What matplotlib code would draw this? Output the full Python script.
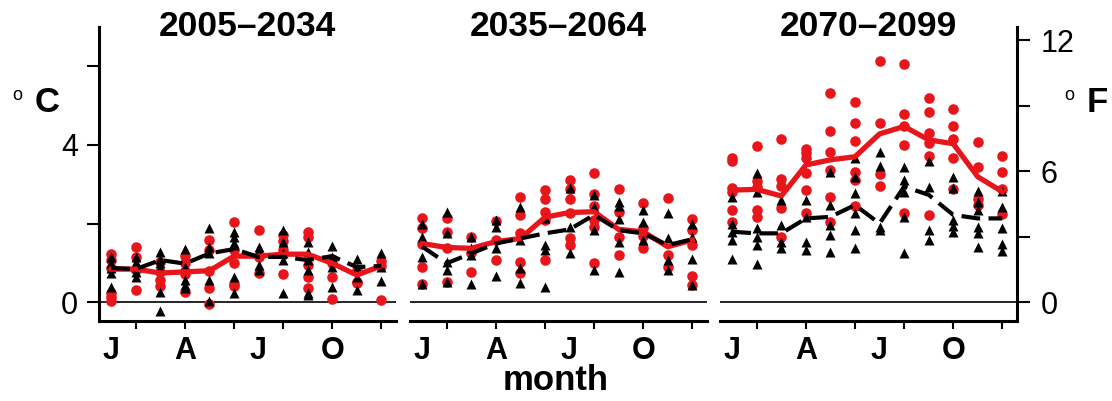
import matplotlib
matplotlib.use("Agg")
import matplotlib.pyplot as plt

plt.rcParams['font.family'] = ['Liberation Sans', 'DejaVu Sans']

months = list(range(1, 13))
month_labels = ['J', 'A', 'J', 'O']
month_label_pos = [1, 4, 7, 10]
periods = ['2005\u20132034', '2035\u20132064', '2070\u20132099']

# warming (deg C) per month, one list of model values for each month
p1_red = [[1.22, 1.07, 0.88, 0.22, 0.12, 0.03], [1.41, 1.15, 0.83, 0.32], [1.03, 0.77, 0.56, 0.41],
          [1.17, 0.99, 0.80, 0.71, 0.26], [1.58, 1.32, 0.80, 0.35, -0.05], [2.05, 1.32, 1.00, 0.46, 0.41],
          [1.83, 1.15, 0.75], [1.71, 1.56, 1.32, 0.71], [1.79, 1.66, 0.94, 0.63, 0.37],
          [1.11, 0.99, 0.65, 0.07], [0.82, 0.52, 0.48], [1.05, 0.92, 0.05]]
p1_blk = [[1.14, 1.00, 0.88, 0.73, 0.39], [1.15, 1.03, 0.90, 0.77, 0.65], [1.28, 1.11, 0.99, 0.88, 0.26, -0.23],
          [1.34, 0.90, 0.56, 0.43, 0.35], [1.89, 1.41, 1.24, 0.56, 0.03], [1.79, 1.65, 1.51, 1.45, 0.65, 0.24],
          [1.41, 1.32, 0.94, 0.83], [1.83, 1.54, 1.24, 1.07, 0.24], [1.54, 1.28, 1.07, 0.82, 0.22, 0.18],
          [1.43, 1.15, 0.90, 0.39], [1.11, 0.88, 0.65, 0.31], [1.26, 0.90, 0.54]]
p1_red_mean = [0.84, 0.84, 0.74, 0.77, 0.80, 1.17, 1.17, 1.22, 1.22, 0.99, 0.69, 0.92]
p1_blk_mean = [0.87, 0.84, 1.07, 0.98, 1.24, 1.35, 1.15, 1.15, 1.07, 1.17, 0.89, 0.92]

p2_red = [[2.13, 1.88, 1.49, 0.90, 0.46], [2.13, 1.79, 1.37, 0.52], [1.65, 1.24, 0.77],
          [2.07, 1.58, 1.07], [2.68, 2.22, 1.75, 1.03, 0.75], [2.85, 2.62, 2.30, 2.09, 1.07],
          [3.11, 2.87, 2.62, 2.26, 1.62, 1.45], [3.29, 2.75, 2.45, 2.09, 1.92, 1.00], [2.87, 2.30, 1.66, 1.20],
          [2.53, 1.88, 1.68, 1.39], [2.64, 1.20, 0.90], [2.11, 1.83, 1.45, 0.66, 0.43]]
p2_blk = [[2.00, 1.66, 1.14, 0.46], [2.30, 1.75, 1.03, 0.82, 0.52], [1.66, 1.37, 1.20, 0.46],
          [2.09, 1.92, 1.37, 0.66], [2.41, 1.58, 0.88, 0.48], [2.13, 1.45, 1.32, 0.39],
          [2.90, 1.92, 1.26], [2.73, 2.43, 1.83, 0.82], [2.56, 2.45, 2.11, 1.54, 0.77],
          [2.34, 2.05, 1.58], [2.26, 1.62, 1.07, 0.82], [2.00, 1.66, 1.11, 0.43]]
p2_red_mean = [1.49, 1.39, 1.37, 1.54, 1.62, 2.16, 2.28, 2.30, 1.85, 1.79, 1.41, 1.58]
p2_blk_mean = [1.41, 0.99, 1.24, 1.49, 1.62, 1.75, 1.85, 2.22, 1.83, 1.75, 1.45, 1.60]

p3_red = [[3.66, 3.58, 2.90, 2.81, 2.34, 2.05], [3.96, 3.07, 2.94, 2.34, 2.17], [4.15, 3.13, 2.96, 2.39, 1.66],
          [3.89, 3.79, 3.66, 3.28, 2.85, 2.26], [5.31, 4.36, 3.83, 3.36, 2.68, 2.05],
          [5.09, 4.55, 4.11, 3.32, 3.11, 2.45], [6.14, 4.57, 3.26, 2.96], [6.06, 4.79, 4.47, 4.00, 2.26],
          [5.19, 4.85, 4.30, 4.04, 3.72, 2.22], [4.92, 4.47, 4.14, 3.66, 2.88], [4.08, 3.43, 2.62, 2.47],
          [3.72, 3.32, 2.87, 2.24]]
p3_blk = [[2.68, 2.00, 1.79, 1.58, 1.11], [3.28, 2.81, 1.88, 1.66, 1.45, 0.97], [2.60, 1.96, 1.54, 1.37],
          [2.60, 2.17, 1.54, 1.33], [3.32, 2.47, 1.96, 1.71, 1.28], [3.66, 3.19, 2.77, 2.26, 1.83, 1.37],
          [3.83, 3.46, 1.92, 1.83], [3.45, 3.11, 2.81, 2.17, 1.24], [3.58, 2.94, 1.83, 1.58],
          [3.19, 2.90, 2.09, 1.94, 1.79], [2.84, 2.56, 2.34, 1.92, 1.77, 1.41], [2.84, 2.43, 1.88, 1.49, 1.31]]
p3_red_mean = [2.85, 2.87, 2.70, 3.49, 3.62, 3.70, 4.28, 4.47, 4.13, 4.03, 3.19, 2.81]
p3_blk_mean = [1.79, 1.75, 1.75, 2.13, 2.17, 2.47, 2.00, 2.94, 2.73, 2.22, 2.13, 2.13]

red_pts = [p1_red, p2_red, p3_red]
blk_pts = [p1_blk, p2_blk, p3_blk]
red_mean = [p1_red_mean, p2_red_mean, p3_red_mean]
blk_mean = [p1_blk_mean, p2_blk_mean, p3_blk_mean]

RED = '#e8151b'
W, H = 1112, 401
fig = plt.figure(figsize=(W / 100, H / 100), dpi=100)

lefts = [99, 410, 720]
pw = 297
bottom, top = 321, 27
axes = []
for i, x0 in enumerate(lefts):
    ax = fig.add_axes([x0 / W, 1 - bottom / H, pw / W, (bottom - top) / H])
    axes.append(ax)

    for m, vals in zip(months, red_pts[i]):
        ax.plot([m] * len(vals), vals, 'o', color=RED, ms=7.6, mec='none', zorder=2)
    for m, vals in zip(months, blk_pts[i]):
        ax.plot([m] * len(vals), vals, '^', color='black', ms=6.5, mec='none', zorder=3)
    ax.plot(months, red_mean[i], '-', color=RED, lw=3.8, zorder=4)
    ax.plot(months, blk_mean[i], color='black', lw=3.0, dashes=(4.5, 2), zorder=5)
    ax.axhline(0, color='black', lw=1.2, zorder=1)

    ax.set_xlim(0.5, 12.6)
    ax.set_ylim(-0.48, 7.0)
    for s in ['top', 'right', 'left']:
        ax.spines[s].set_visible(False)
    ax.spines['bottom'].set_linewidth(2.2)

    # unlabelled ticks every other month, letters at Jan/Apr/Jul/Oct
    ax.xaxis.remove_overlapping_locs = False
    ax.set_xticks([2, 4, 6, 8, 10, 12])
    ax.set_xticklabels([])
    ax.tick_params(axis='x', which='major', length=6, width=1.5, direction='out')
    ax.set_xticks(month_label_pos, minor=True)
    ax.set_xticklabels(month_labels, minor=True, fontsize=22, fontweight='bold')
    ax.tick_params(axis='x', which='minor', length=0, pad=11)

    ax.text(0.5, 1.0, periods[i], transform=ax.transAxes, fontsize=25.5, fontweight='bold',
            ha='center', va='center')

    if i == 0:
        ax.spines['left'].set_visible(True)
        ax.spines['left'].set_linewidth(2.2)
        ax.set_yticks([0, 2, 4, 6])
        ax.set_yticklabels(['0', '', '4', ''], fontsize=22)
        ax.tick_params(axis='y', length=9, width=1.5, pad=6)
    else:
        ax.set_yticks([])

# Fahrenheit scale on the right of the last panel
sec = axes[2].secondary_yaxis('right', functions=(lambda c: c * 1.8, lambda f: f / 1.8))
sec.set_yticks([0, 3, 6, 9, 12])
sec.set_yticklabels(['0', '', '6', '', '12'], fontsize=22)
sec.tick_params(axis='y', length=9, width=1.5, pad=8)
sec.spines['right'].set_linewidth(2.2)

fig.text(17 / W, 1 - 96 / H, 'o', fontsize=13, ha='center', va='center')
fig.text(47 / W, 1 - 103 / H, 'C', fontsize=25, fontweight='bold', ha='center', va='center')
fig.text(1069 / W, 1 - 96 / H, 'o', fontsize=13, ha='center', va='center')
fig.text(1097 / W, 1 - 103 / H, 'F', fontsize=25, fontweight='bold', ha='center', va='center')
fig.text(556 / W, 1 - 381 / H, 'month', fontsize=25, fontweight='bold', ha='center', va='center')

fig.savefig('out.png', dpi=100)
